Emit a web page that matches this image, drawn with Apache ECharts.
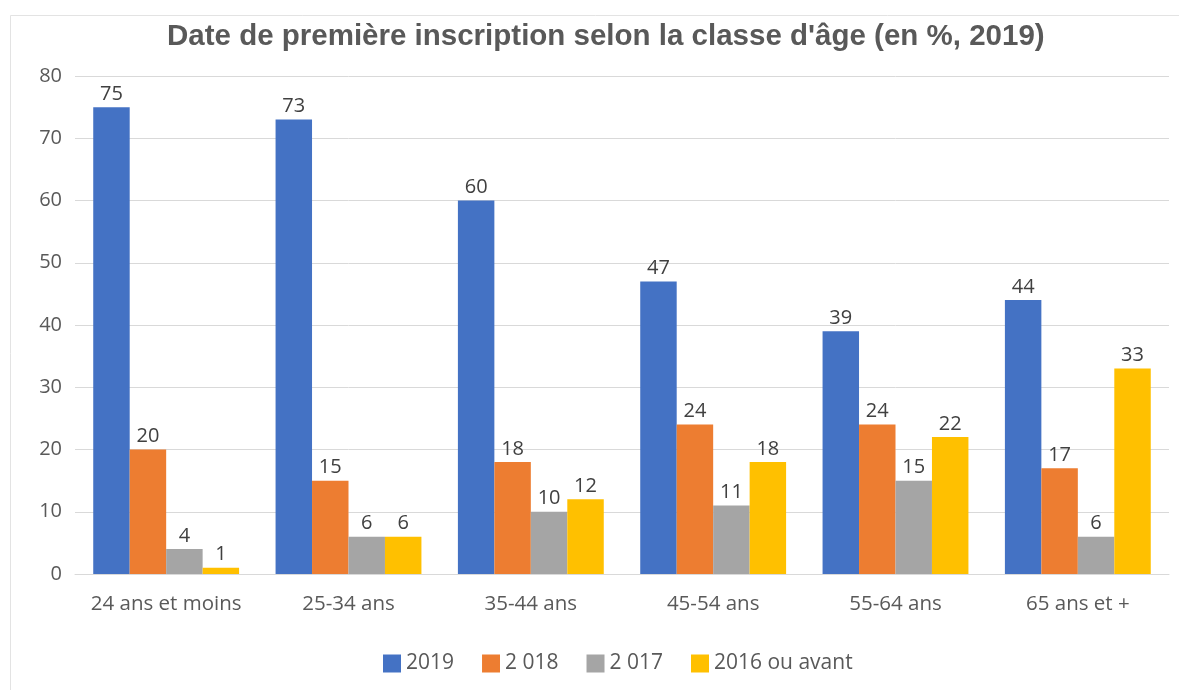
<!DOCTYPE html>
<html>
<head>
<meta charset="utf-8">
<script src="https://cdn.jsdelivr.net/npm/echarts@6/dist/echarts.min.js"></script>
<style>
  html, body { margin: 0; padding: 0; background: #fff; }
  #chart_1 { width: 1179px; height: 690px; }
</style>
</head>
<body>
<div id="chart_1"></div>
<script>
'use strict';
var categories = ['24 ans et moins', '25-34 ans', '35-44 ans', '45-54 ans', '55-64 ans', '65 ans et +'];
var seriesNames = ['2019', '2 018', '2 017', '2016 ou avant'];
var v2019 = [75, 73, 60, 47, 39, 44];
var v2018 = [20, 15, 18, 24, 24, 17];
var v2017 = [4, 6, 10, 11, 15, 6];
var v2016 = [1, 6, 12, 18, 22, 33];
var colors = ['#4472C4', '#ED7D31', '#A5A5A5', '#FFC000'];

var myChart = echarts.init(document.getElementById('chart_1'));
var allValues = [v2019, v2018, v2017, v2016];
var option = {
  animation: false,
  color: colors,
  textStyle: { fontFamily: 'Open Sans', color: '#595959' },
  graphic: [{
    type: 'rect',
    shape: { x: 10.5, y: 15.5, width: 1180, height: 690 },
    style: { fill: 'none', stroke: '#e3e3e3', lineWidth: 1 },
    silent: true
  }],
  title: {
    text: "Date de première inscription selon la classe d'âge (en %, 2019)",
    left: 162,
    top: 17,
    textStyle: { fontFamily: 'Liberation Sans', fontWeight: 'bold', fontSize: 29.5, color: '#595959' }
  },
  legend: {
    top: 648,
    left: 378,
    itemWidth: 18,
    itemHeight: 18,
    itemGap: 28,
    icon: 'rect',
    textStyle: { fontFamily: 'Open Sans', fontSize: 21, color: '#595959' },
    data: seriesNames
  },
  grid: { left: 75, right: 10, top: 76, bottom: 116, containLabel: false },
  xAxis: {
    type: 'category',
    data: categories,
    axisTick: { show: false },
    axisLine: { lineStyle: { color: '#d9d9d9' } },
    axisLabel: { interval: 0, fontSize: 20.5, color: '#595959', margin: 20 }
  },
  yAxis: {
    type: 'value',
    min: 0, max: 80, interval: 10,
    axisLabel: { fontSize: 20, color: '#595959', margin: 13 },
    splitLine: { lineStyle: { color: '#d9d9d9' } },
    axisLine: { show: false },
    axisTick: { show: false }
  },
  series: seriesNames.map(function (name, i) {
    return {
      name: name,
      type: 'bar',
      data: allValues[i],
      barGap: '0%',
      barCategoryGap: '20%',
      label: { show: true, position: 'top', distance: 3, fontSize: 20, color: '#404040', fontFamily: 'Open Sans' }
    };
  })
};
myChart.setOption(option);
</script>
</body>
</html>
